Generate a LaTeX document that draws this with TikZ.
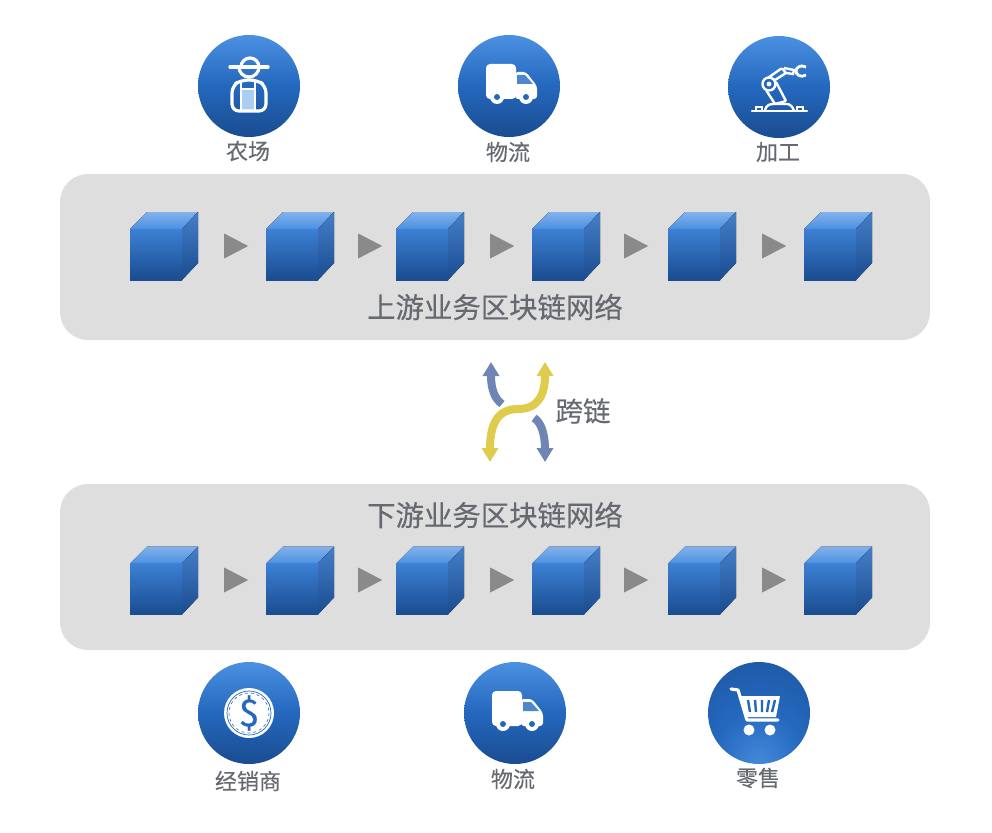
\documentclass[tikz,border=0pt]{standalone}
\usepackage{xcolor}
\usepackage{fontspec}
\setmainfont[FakeBold=0.35]{Noto Sans CJK SC}
\usepackage{tikz}
\usetikzlibrary{arrows.meta,shapes.geometric}
\definecolor{panelgray}{HTML}{DEDEDE}
\definecolor{labelgray}{HTML}{666A70}
\definecolor{flowgray}{HTML}{8A8A8A}
\definecolor{linkblue}{HTML}{6F86B4}
\definecolor{linkyellow}{HTML}{DFCB4C}
\definecolor{badgetop}{HTML}{4C90E2}
\definecolor{badgemid}{HTML}{2468BE}
\definecolor{badgelow}{HTML}{1A4C90}
\pgfdeclareradialshading{shopglow}{\pgfpoint{0bp}{-26bp}}{color(0bp)=(badgetop!85!badgemid); color(22bp)=(badgemid); color(50bp)=(badgelow!70!badgemid); color(100bp)=(badgelow)}
\tikzset{
	panel/.style={fill=panelgray, rounded corners=28pt, minimum width=870pt, minimum height=166pt, inner sep=0},
	badge/.style={circle, inner sep=0, minimum size=102pt, top color=badgetop, bottom color=badgelow, middle color=badgemid},
	caption/.style={text=labelgray, inner sep=0, font=\fontsize{22}{24}\selectfont},
	title/.style={text=labelgray, inner sep=0, font=\fontsize{28.4}{30}\selectfont},
	flowtip/.style={isosceles triangle, isosceles triangle apex angle=55, anchor=west, fill=flowgray, inner sep=0, minimum height=24pt, minimum width=24pt},
	swap/.style={line width=8pt, -{Triangle[width=16pt,length=14pt]}},
	swapboth/.style={line width=8pt, {Triangle[width=16pt,length=14pt]}-{Triangle[width=16pt,length=14pt]}},
	blockcube/.pic={
		\fill[top color=badgetop!70!white, bottom color=badgetop] (0,17) -- (17,0) -- (68,0) -- (52,17) -- cycle;
		\fill[top color=badgemid!85!white, bottom color=badgelow] (52,17) -- (68,0) -- (68,51) -- (52,68) -- cycle;
		\fill[top color=badgetop!60!badgemid, bottom color=badgelow] (0,17) rectangle (52,68);
	},
	van/.pic={
		\fill[white, rounded corners=4pt] (-23,-22) -- (7,-22) -- (7,13) -- (-23,13) -- cycle;
		\fill[white, rounded corners=3pt] (6,-14) -- (17,-14) -- (28,0) -- (28,13) -- (6,13) -- cycle;
		\fill[badgemid!80!white] (8,-11) -- (16,-11) -- (24,-2) -- (8,-2) -- cycle;
		\fill[white] (-12,11) circle (7) (17,11) circle (7);
		\fill[badgemid] (-12,11) circle (3) (17,11) circle (3);
	},
	farmer/.pic={
		\fill[badgetop!45!white] (-7,3) rectangle (5,24);
		\draw[white, line width=3.2pt, line cap=round] (-19,-19) -- (19,-19);
		\draw[white, line width=3.2pt] (-10,-19) arc (180:0:10);
		\draw[white, line width=3.2pt] (-8,-19) arc (180:360:9);
		\draw[white, line width=3.2pt, rounded corners=7pt] (-17,25) -- (-17,0) -- (-8,-6) -- (8,-6) -- (17,0) -- (17,25) -- cycle;
		\draw[white, line width=2.4pt] (-8,-6) -- (-8,24) (6,-6) -- (6,24) (-8,3) -- (6,3);
	},
	robotarm/.pic={
		\draw[white, line width=2.6pt, line cap=round] (-27,24) -- (28,24);
		\draw[white, line width=2pt] (-23,24) rectangle (-17,20) (18,24) rectangle (24,20);
		\draw[white, line width=2.4pt] (-14,24) .. controls (-13,17) and (-8,17) .. (-5,17) -- (8,17) .. controls (11,17) and (14,20) .. (15,24);
		\draw[white, line width=2.4pt, rounded corners=1pt] (-13,3) -- (-3,-5) -- (7,14) -- (-4,17) -- cycle;
		\draw[white, line width=2.4pt, rounded corners=1.5pt] (-14,-7) -- (3,-19) -- (7,-14) -- (-4,-7);
		\draw[white, line width=2.4pt] (5,-19) -- (15,-17) -- (14,-13) -- (7,-14);
		\fill[badgemid] (-10,-3) circle (7);
		\draw[white, line width=2.4pt] (-10,-3) circle (6.5);
		\fill[white] (-10,-3) circle (2.4);
		\draw[white, line width=2.8pt] (27,-20) .. controls (21,-23) and (17,-19) .. (17,-16) .. controls (17,-12) and (22,-9) .. (27,-12);
	},
	coinmark/.pic={
		\fill[white] (0,0) circle (25);
		\draw[badgemid, line width=.7pt] (0,0) circle (22);
		\draw[badgemid, line width=.6pt, dashed] (0,0) circle (20);
		\node[text=badgemid, inner sep=0, font=\fontsize{37}{39}\selectfont] (coinsign) at (0,0) {\$};
	},
	cartmark/.pic={
		\draw[white, line width=3.2pt, line cap=round, line join=round] (-28,-24) -- (-21,-23) -- (-12,7) -- (19,7);
		\fill[white] (-20,-17) -- (21,-17) -- (17,4) -- (-14,4) -- cycle;
		\draw[badgemid, line width=2.4pt] (-11,-13) -- (-9,-1) (-4,-13) -- (-3,-1) (3,-13) -- (3,-1) (10,-13) -- (8,-1) (16,-13) -- (13,-1);
		\fill[white] (-10,17) circle (5.5) (11,17) circle (5.5);
	}
}
\begin{document}
\begin{tikzpicture}[x=1pt,y=-1pt]
	\useasboundingbox (0,0) rectangle (992,832);
	\node[panel] (upnet) at (495,257) {};
	\node[panel] (downnet) at (495,567) {};

	\node[badge] (farm) at (249,86) {};
	\node[badge] (shipup) at (509,86) {};
	\node[badge] (plant) at (779,87) {};
	\node[badge] (dealer) at (249,713) {};
	\node[badge] (shipdown) at (515,713) {};
	\node[circle, inner sep=0, minimum size=102pt, shading=shopglow] (shop) at (759,713) {};

	\pic at (farm) {farmer};
	\pic at (shipup) {van};
	\pic at (plant) {robotarm};
	\pic at (dealer) {coinmark};
	\pic at (shipdown) {van};
	\pic at (shop) {cartmark};

	\node[caption] (farmtxt) at (248,151) {农场};
	\node[caption] (shipuptxt) at (508,152) {物流};
	\node[caption] (planttxt) at (778,152) {加工};
	\node[caption] (dealertxt) at (248,781) {经销商};
	\node[caption] (shipdowntxt) at (513,779) {物流};
	\node[caption] (shoptxt) at (758,778) {零售};

	\node[title] (uptxt) at (495,307) {上游业务区块链网络};
	\node[title] (downtxt) at (495,515) {下游业务区块链网络};
	\node[text=labelgray, inner sep=0, font=\fontsize{27.5}{29}\selectfont] (crosstxt) at (583,411) {跨链};

	\foreach \x in {130,266,396,532,668,804} {
		\pic at (\x,212) {blockcube};
		\pic at (\x,546.5) {blockcube};
	}
	\foreach \x in {224,358,490,624,762} {
		\node[flowtip] (upflow\x) at (\x,246) {};
		\node[flowtip] (downflow\x) at (\x,580) {};
	}

	\coordinate (bluea) at (502,404);
	\coordinate (blueb) at (491,362);
	\coordinate (bluec) at (534,418);
	\coordinate (blued) at (545,462);
	\coordinate (yellowa) at (490,462);
	\coordinate (yellowb) at (545,362);
	\draw[swap, linkblue] (bluea) .. controls (495,399) and (491,390) .. (blueb);
	\draw[swap, linkblue] (bluec) .. controls (541,422) and (545,434) .. (blued);
	\draw[swapboth, linkyellow] (yellowa) .. controls (490,425) and (497,409) .. (518,409) .. controls (538,409) and (545,395) .. (yellowb);
\end{tikzpicture}
\end{document}
